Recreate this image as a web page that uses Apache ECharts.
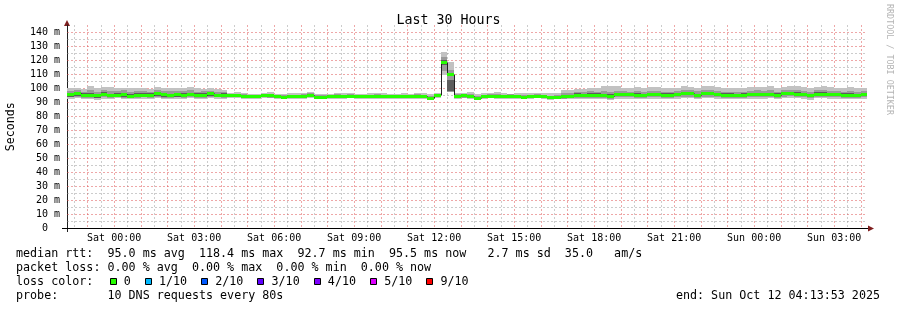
<!DOCTYPE html>
<html><head><meta charset="utf-8">
<script src="https://cdn.jsdelivr.net/npm/echarts@6/dist/echarts.min.js"></script>
<style>html,body{margin:0;padding:0;background:#fff}#c{width:897px;height:310px}</style>
</head><body><div id="c"></div>
<script>
// ---------- data ----------
const titleText = 'Last 30 Hours';
const yAxisTitle = 'Seconds';
const xTickHours = [0, 3, 6, 9, 12, 15, 18, 21, 24, 27];          // hours since Sat 00:00
const xTickLabels = ['Sat 00:00','Sat 03:00','Sat 06:00','Sat 09:00','Sat 12:00','Sat 15:00','Sat 18:00','Sat 21:00','Sun 00:00','Sun 03:00'];
const axisStartHour = -1.7686;   // Fri 22:13:53
const axisEndHour = 28.2314;     // Sun 04:13:53
const firstStepHour = -1.75;     // first 15-min consolidation step (22:15)
const stepHours = 0.25;
const yMin = 0, yMax = 145;

// median RTT per 15-min step (ms)
const medianRtt = [95.8,96.4,95.2,95.2,94.8,95.8,95.0,95.2,95.8,94.6,95.3,95.4,95.3,96.5,95.5,95.1,95.6,95.3,95.9,95.2,95.4,96.2,95.0,95.3,
 94.8,94.9,94.7,94.3,94.2,94.9,94.8,94.1,94.0,94.2,94.4,94.5,95.4,94.0,93.9,94.1,94.6,94.5,94.7,94.3,94.2,94.4,94.6,94.3,94.5,94.2,94.4,94.1,94.5,94.3,93.2,95.0,
 118.4,109.8,
 94.6,94.8,94.3,92.7,94.5,94.6,94.4,94.2,94.5,94.3,94.0,94.4,94.6,94.2,93.6,94.0,
 94.2,94.3,95.2,95.0,95.2,95.3,94.8,94.4,95.6,95.5,95.5,95.4,95.0,95.6,95.7,95.3,95.2,95.7,96.3,96.2,95.0,96.3,96.2,95.5,95.4,95.2,95.1,95.3,95.6,95.7,95.6,95.8,95.2,96.3,96.4,96.0,95.9,94.8,96.0,96.1,95.6,95.5,95.4,95.3,95.0,95.5];
// smoke: outer band (lightest)
const smokeOuterHi = [100.3,100.0,99.5,101.2,100.0,100.6,100.6,100.4,100.0,99.8,100.4,100.2,99.6,100.6,99.9,100.3,99.8,100.1,100.6,100.2,99.7,100.0,99.4,99.0,
 96.8,97.2,96.4,96.0,95.8,96.6,97.0,95.6,95.8,96.2,96.4,96.8,97.4,95.8,95.6,96.0,96.5,96.3,96.6,96.0,95.9,96.4,96.8,96.2,96.0,95.8,96.3,96.0,96.6,96.4,95.8,96.8,
 125.7,118.6,
 96.4,96.8,97.4,96.0,96.2,96.6,97.2,96.4,96.0,96.8,96.2,96.5,96.8,96.4,96.2,96.6,
 98.6,98.8,99.6,99.4,100.0,100.2,101.4,101.8,101.6,100.4,100.2,100.6,100.0,100.8,100.6,100.2,99.8,100.4,101.2,101.0,100.4,101.4,101.2,100.6,100.2,100.0,100.4,100.2,100.6,101.0,100.8,101.2,100.2,101.0,101.4,101.2,100.6,99.8,100.8,101.4,101.0,100.4,100.2,100.6,100.0,100.4];
const smokeOuterLo = [92.6,93.0,92.4,92.5,91.8,92.6,92.3,92.8,92.5,92.0,92.4,92.6,92.3,92.8,92.5,92.2,92.6,92.4,92.8,92.3,92.5,92.7,92.6,92.4,
 93.0,92.8,92.6,92.4,92.6,92.9,92.8,92.3,92.2,92.4,92.5,92.6,93.0,92.3,92.1,92.4,92.6,92.5,92.7,92.4,92.3,92.5,92.6,92.4,92.5,92.3,92.4,92.2,92.6,92.4,92.0,92.8,
 109.3,97.3,
 92.6,92.8,92.4,92.0,92.6,92.7,92.5,92.3,92.6,92.4,92.1,92.5,92.7,92.3,91.9,92.2,
 92.0,92.1,92.4,92.3,92.5,92.4,92.1,91.8,92.6,92.5,92.4,92.4,92.2,92.6,92.6,92.4,92.3,92.6,92.9,92.8,92.1,92.9,92.8,92.5,92.4,92.3,92.2,92.4,92.6,92.6,92.5,92.7,92.3,92.9,93.0,92.7,92.6,91.9,92.7,92.8,92.5,92.4,92.4,92.3,92.2,92.5];
// smoke: middle band
const smokeMidHi = [98.0,98.6,97.6,98.8,97.4,98.6,98.2,97.9,98.4,97.3,98.2,97.8,97.6,98.9,97.8,98.0,97.7,98.3,98.4,97.6,97.8,98.2,97.2,97.4,
 95.8,96.0,95.6,95.2,95.1,95.8,95.8,95.0,94.9,95.2,95.4,95.6,96.4,95.0,94.9,95.1,95.6,95.4,95.6,95.2,95.1,95.4,95.6,95.3,95.4,95.1,95.4,95.0,95.5,95.3,94.6,95.9,
 122.5,113.0,
 95.6,95.8,95.6,94.4,95.4,95.6,95.5,95.2,95.5,95.3,95.0,95.4,95.6,95.2,94.7,95.1,
 96.4,96.8,97.6,97.2,97.8,97.6,98.0,97.6,98.2,97.8,97.6,98.0,97.4,98.2,98.0,97.6,97.4,98.0,98.8,98.6,97.8,98.8,98.6,97.8,97.6,97.4,97.6,97.6,98.0,98.4,98.0,98.4,97.6,98.6,98.8,98.4,98.2,97.2,98.4,98.8,98.0,97.8,97.6,97.8,97.4,97.8];
const smokeMidLo = [93.4,93.8,93.2,93.0,92.8,93.4,93.1,93.4,93.3,92.8,93.2,93.4,93.1,93.6,93.3,93.0,93.4,93.2,93.6,93.0,93.3,93.5,93.4,93.2,
 93.4,93.4,93.2,92.9,92.9,93.4,93.3,92.8,92.7,92.9,93.0,93.1,93.6,92.8,92.6,92.8,93.1,93.0,93.2,92.9,92.8,93.0,93.1,92.9,93.0,92.8,92.9,92.7,93.1,92.9,92.4,93.4,
 112.0,97.5,
 93.1,93.3,92.9,92.2,93.0,93.2,93.0,92.8,93.1,92.9,92.6,93.0,93.2,92.8,92.3,92.6,
 92.6,92.7,93.2,93.0,93.3,93.2,92.8,92.4,93.5,93.4,93.4,93.3,93.0,93.5,93.6,93.3,93.2,93.6,94.0,93.9,93.0,94.0,93.9,93.4,93.3,93.2,93.1,93.3,93.5,93.6,93.5,93.7,93.2,94.0,94.1,93.8,93.7,92.8,93.8,93.9,93.5,93.4,93.3,93.2,93.0,93.4];
// smoke: inner band (darkest)
const smokeInnerHi = [96.6,97.2,96.2,96.4,95.8,97.0,96.0,96.4,96.8,95.6,96.3,96.4,96.2,97.4,96.4,96.1,96.5,96.4,96.8,96.2,96.4,97.0,96.0,96.2,
 95.2,95.4,95.0,94.7,94.6,95.3,95.2,94.5,94.4,94.6,94.8,94.9,95.8,94.4,94.3,94.5,95.0,94.9,95.1,94.7,94.6,94.8,95.0,94.7,94.9,94.6,94.8,94.5,94.9,94.7,94.0,95.4,
 120.0,106.0,
 95.0,95.2,94.8,93.6,94.9,95.0,94.8,94.6,94.9,94.7,94.4,94.8,95.0,94.6,94.0,94.4,
 95.2,95.4,96.2,96.0,96.3,96.3,95.9,95.5,96.6,96.5,96.5,96.4,96.0,96.6,96.7,96.3,96.2,96.7,97.3,97.2,96.0,97.3,97.2,96.5,96.4,96.2,96.1,96.3,96.6,96.7,96.6,96.8,96.2,97.3,97.4,97.0,96.9,95.8,97.0,97.1,96.6,96.5,96.4,96.3,96.0,96.5];
const smokeInnerLo = [93.9,94.4,93.8,93.6,93.3,94.1,93.6,93.9,94.0,93.4,93.8,93.9,93.7,94.2,93.8,93.6,94.0,93.8,94.2,93.6,93.8,94.2,93.9,93.7,
 93.8,93.8,93.6,93.3,93.2,93.8,93.7,93.1,93.0,93.2,93.4,93.5,94.2,93.0,92.9,93.1,93.5,93.4,93.6,93.2,93.1,93.3,93.5,93.2,93.4,93.1,93.3,93.0,93.4,93.2,92.7,93.8,
 116.5,97.8,
 93.6,93.8,93.4,92.5,93.5,93.6,93.4,93.2,93.5,93.3,93.0,93.4,93.6,93.2,92.8,93.1,
 93.0,93.1,93.8,93.6,93.8,93.9,93.4,93.0,94.2,94.1,94.1,94.0,93.6,94.2,94.3,93.9,93.8,94.3,94.9,94.8,93.6,94.9,94.8,94.1,94.0,93.8,93.7,93.9,94.2,94.3,94.2,94.4,93.8,94.9,95.0,94.6,94.5,93.4,94.6,94.7,94.2,94.1,94.0,93.9,93.6,94.1];

const lossLabels = ['0','1/10','2/10','3/10','4/10','5/10','9/10'];
const lossColors = ['#26ff00','#00b8ff','#0059ff','#5e00ff','#7e00ff','#dd00ff','#ff0000'];
const statsLines = [
  'median rtt:  95.0 ms avg  118.4 ms max  92.7 ms min  95.5 ms now   2.7 ms sd  35.0   am/s',
  'packet loss: 0.00 % avg  0.00 % max  0.00 % min  0.00 % now'
];
const lossColorCaption = 'loss color:';
const probeLine = 'probe:       10 DNS requests every 80s';
const endLine = 'end: Sun Oct 12 04:13:53 2025';
const watermark = 'RRDTOOL / TOBI OETIKER';

// ---------- styles ----------
const mono = '"DejaVu Sans Mono", monospace';
const smokeShades = ['#c2c2c2', '#9a9a9a', '#5c5c5c'];
const medianLineColor = '#202020';
const majorGrid = 'rgba(222,79,79,0.5)';
const minorGrid = 'rgba(143,143,143,0.45)';
const arrowColor = '#7f1f1f';

// ---------- build ----------
const nSteps = medianRtt.length;
const smokeData = [];
for (let i = 0; i < nSteps; i++) {
  const t0 = firstStepHour + i * stepHours;
  smokeData.push([t0, t0 + stepHours,
    smokeOuterLo[i], smokeOuterHi[i], smokeMidLo[i], smokeMidHi[i], smokeInnerLo[i], smokeInnerHi[i],
    medianRtt[i], i > 0 ? medianRtt[i - 1] : medianRtt[i]]);
}
const vGrid = [];
for (let h = Math.ceil(axisStartHour * 2) / 2; h <= axisEndHour; h += 0.5) vGrid.push([h, 0]);
const hGrid = [];
for (let v = 5; v < yMax; v += 5) hGrid.push([0, v]);

function smokeItem(params, api) {
  const t0 = api.value(0), t1 = api.value(1);
  const x0 = Math.round(api.coord([t0, 0])[0]);
  const x1 = Math.round(api.coord([t1, 0])[0]);
  const yOf = v => api.coord([t0, v])[1];
  const kids = [];
  [[2, 3], [4, 5], [6, 7]].forEach(([a, b], k) => {
    const yt = Math.round(yOf(api.value(b))), yb = Math.round(yOf(api.value(a)));
    kids.push({type: 'rect', shape: {x: x0, y: yt, width: x1 - x0, height: Math.max(1, yb - yt)},
      style: {fill: smokeShades[k]}});
  });
  const ym = Math.round(yOf(api.value(8))) + 0.5;
  const yp = Math.round(yOf(api.value(9))) + 0.5;
  kids.push({type: 'polyline', shape: {points: [[x0 + 0.5, yp], [x0 + 0.5, ym], [x1, ym]]},
    style: {stroke: medianLineColor, lineWidth: 1, fill: null}});
  kids.push({type: 'rect', shape: {x: x0, y: Math.round(ym - 2), width: x1 - x0, height: 3},
    style: {fill: lossColors[0]}});
  return {type: 'group', children: kids};
}
function vGridItem(params, api) {
  const h = api.value(0);
  const top = api.coord([h, yMax]), bot = api.coord([h, yMin]);
  const x = Math.round(top[0]) + 0.5;
  return {type: 'line', shape: {x1: x, y1: Math.round(top[1]), x2: x, y2: Math.round(bot[1])},
    style: {stroke: Math.abs(h - Math.round(h)) < 1e-6 ? majorGrid : minorGrid, lineWidth: 1, lineDash: [2, 2]}};
}
function hGridItem(params, api) {
  const v = api.value(1);
  const l = api.coord([axisStartHour, v]), r = api.coord([axisEndHour, v]);
  const y = Math.round(l[1]) + 0.5;
  return {type: 'line', shape: {x1: Math.round(l[0]), y1: y, x2: Math.round(r[0]), y2: y},
    style: {stroke: v % 10 === 0 ? majorGrid : minorGrid, lineWidth: 1, lineDash: [2, 2]}};
}

const W = 897, H = 310;
const gridL = 67, gridR = 30, gridT = 25, gridB = 81.5;

// legend graphics
const legendFont = '11.7px ' + mono;
const charW = 7.04;
const g = [];
const txt = (x, y, s, font, fill, align) => ({type: 'text', x, y,
  style: {text: s, font, fill, align: align || 'left', verticalAlign: 'middle', textAlign: align || 'left', textVerticalAlign: 'middle'}});
statsLines.forEach((s, k) => g.push(txt(16, 254.3 + 14 * k, s, legendFont, '#000')));
g.push(txt(16, 282.3, lossColorCaption, legendFont, '#000'));
let lx = 16 + 13.3 * charW;
lossLabels.forEach((lab, k) => {
  g.push({type: 'rect', shape: {x: Math.round(lx) + 0.5, y: 278.5, width: 6, height: 6},
    style: {fill: lossColors[k], stroke: '#000', lineWidth: 1}});
  g.push(txt(lx + 2 * charW, 282.3, lab, legendFont, '#000'));
  lx += 2 * charW + lab.length * charW + 2 * charW;
});
g.push(txt(16, 296.3, probeLine, legendFont, '#000'));
g.push(txt(880, 296.3, endLine, legendFont, '#000', 'right'));
const wm = txt(889, 4, watermark, '8.4px ' + mono, '#b4b4b4');
wm.rotation = -Math.PI / 2;
g.push(wm);
// axis arrows and small axis extensions (rrdtool style)
g.push({type: 'polygon', shape: {points: [[64, 26], [70, 26], [67, 20]]}, style: {fill: arrowColor}});
g.push({type: 'polygon', shape: {points: [[868, 225.5], [868, 231.5], [874, 228.5]]}, style: {fill: arrowColor}});
g.push({type: 'line', shape: {x1: 62, y1: 228.5, x2: 67, y2: 228.5}, style: {stroke: '#000', lineWidth: 1}});
g.push({type: 'line', shape: {x1: 67.5, y1: 228, x2: 67.5, y2: 232}, style: {stroke: '#202020', lineWidth: 1}});
g.push({type: 'line', shape: {x1: 867, y1: 228.5, x2: 868, y2: 228.5}, style: {stroke: '#000', lineWidth: 1}});

const chart = echarts.init(document.getElementById('c'), null, {renderer: 'canvas', width: W, height: H});
chart.setOption({
  animation: false,
  backgroundColor: '#ffffff',
  title: {text: titleText, left: 'center', top: 9,
    textStyle: {fontFamily: mono, fontSize: 13.3, fontWeight: 'normal', color: '#000'}},
  grid: {left: gridL, right: gridR, top: gridT, bottom: gridB, containLabel: false, outerBoundsMode: 'none'},
  xAxis: {type: 'value', min: axisStartHour, max: axisEndHour,
    splitLine: {show: false}, axisTick: {show: false},
    axisLine: {show: true, onZero: false, lineStyle: {color: '#000', width: 1}},
    axisLabel: {customValues: xTickHours, margin: 5, fontFamily: mono, fontSize: 10, color: '#000',
      formatter: v => { const k = xTickHours.indexOf(Math.round(v)); return k >= 0 ? xTickLabels[k] : ''; }}},
  yAxis: {type: 'value', min: yMin, max: yMax, interval: 5,
    name: yAxisTitle, nameLocation: 'middle', nameRotate: 90, nameGap: 50,
    nameTextStyle: {fontFamily: mono, fontSize: 11.6, color: '#000'},
    splitLine: {show: false}, axisTick: {show: false},
    axisLine: {show: true, onZero: false, lineStyle: {color: '#202020', width: 1}},
    axisLabel: {margin: 7, fontFamily: mono, fontSize: 10, color: '#000',
      formatter: v => v % 10 !== 0 ? '' : (v === 0 ? '0  ' : v + ' m')}},
  series: [
    {type: 'custom', name: 'vgrid', data: vGrid, encode: {x: 0, y: 1},
      renderItem: vGridItem, clip: true, z: 1, silent: true},
    {type: 'custom', name: 'hgrid', data: hGrid, encode: {x: 0, y: 1},
      renderItem: hGridItem, clip: true, z: 1, silent: true},
    {type: 'custom', name: 'smoke', data: smokeData, encode: {x: [0, 1], y: [2, 3]},
      renderItem: smokeItem, clip: true, z: 2, silent: true}
  ],
  graphic: g
});
</script></body></html>
